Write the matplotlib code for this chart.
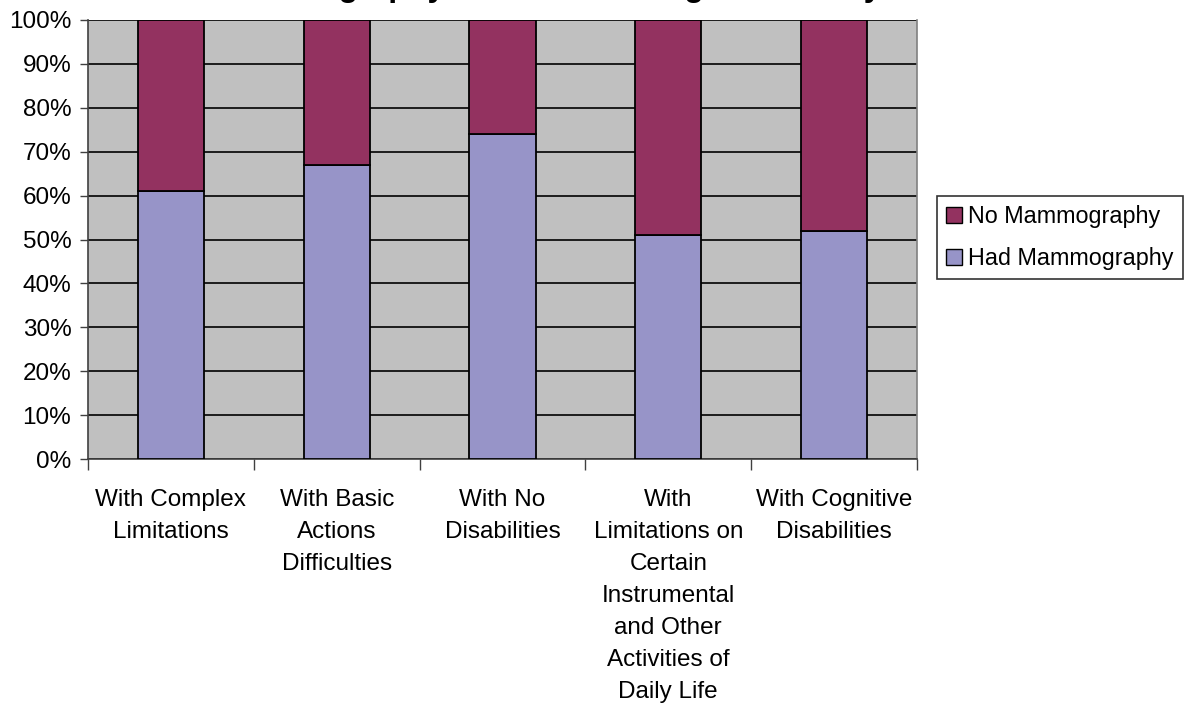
import matplotlib
matplotlib.use("Agg")
import matplotlib.pyplot as plt
from matplotlib.patches import Patch
import numpy as np

plt.rcParams['font.family'] = ['Liberation Sans', 'DejaVu Sans']

categories = [
    "With Complex\nLimitations",
    "With Basic\nActions\nDifficulties",
    "With No\nDisabilities",
    "With\nLimitations on\nCertain\nInstrumental\nand Other\nActivities of\nDaily Life",
    "With Cognitive\nDisabilities",
]
had_mammography = [61, 67, 74, 51, 52]
no_mammography = [100 - v for v in had_mammography]
y_ticks = [0, 10, 20, 30, 40, 50, 60, 70, 80, 90, 100]
y_tick_labels = [f"{t}%" for t in y_ticks]

W, H = 1186, 713
fig = plt.figure(figsize=(W / 100, H / 100), dpi=100)
ax = fig.add_axes([88 / W, 1 - 459 / H, (917 - 88) / W, (459 - 20) / H])

color_had = "#9794C8"
color_no = "#933260"

x = np.arange(len(categories))
ax.bar(x, had_mammography, width=0.4, color=color_had, edgecolor="black",
       linewidth=1.3, zorder=3)
ax.bar(x, no_mammography, width=0.4, bottom=had_mammography, color=color_no,
       edgecolor="black", linewidth=1.3, zorder=3)

ax.set_facecolor("#C0C0C0")
ax.set_xlim(-0.5, len(categories) - 0.5)
ax.set_ylim(0, 100)
ax.set_yticks(y_ticks)
ax.set_yticklabels(y_tick_labels, fontsize=17.5)
ax.yaxis.grid(True, color="black", linewidth=1.2, zorder=1)
ax.set_axisbelow(True)

# category labels centred under each bar, tick marks at category boundaries
ax.set_xticks(np.arange(len(categories) + 1) - 0.5)
ax.set_xticklabels([])
ax.tick_params(axis="x", length=8, width=1, color="#404040", direction="out")
ax.tick_params(axis="y", length=6, width=1, color="#404040", direction="out", pad=6)
for i, lab in enumerate(categories):
    ax.text(i, -6.8, lab, ha="center", va="top", fontsize=17.5,
            linespacing=1.59, transform=ax.transData)

for side in ["left", "right", "bottom"]:
    ax.spines[side].set_color("#808080")
    ax.spines[side].set_linewidth(1.2)
ax.spines["top"].set_visible(False)
ax.spines["left"].set_color("#404040")
ax.spines["bottom"].set_color("#404040")

handles = [
    Patch(facecolor=color_no, edgecolor="black", label="No Mammography"),
    Patch(facecolor=color_had, edgecolor="black", label="Had Mammography"),
]
leg = fig.legend(handles=handles, loc="upper left",
                 bbox_to_anchor=(937 / W, 1 - 196 / H), fontsize=16.8,
                 frameon=True, fancybox=False, edgecolor="black",
                 handlelength=0.65, handleheight=0.65, handletextpad=0.3,
                 borderpad=0.4, labelspacing=0.8, borderaxespad=0)
leg.get_frame().set_linewidth(1.2)

fig.text(550 / W, 1 + 4 / H, "Mammography - Women Having a Disability",
         ha="center", va="baseline", fontsize=23, fontweight="bold")

fig.savefig("out.png", dpi=100, facecolor="white")
